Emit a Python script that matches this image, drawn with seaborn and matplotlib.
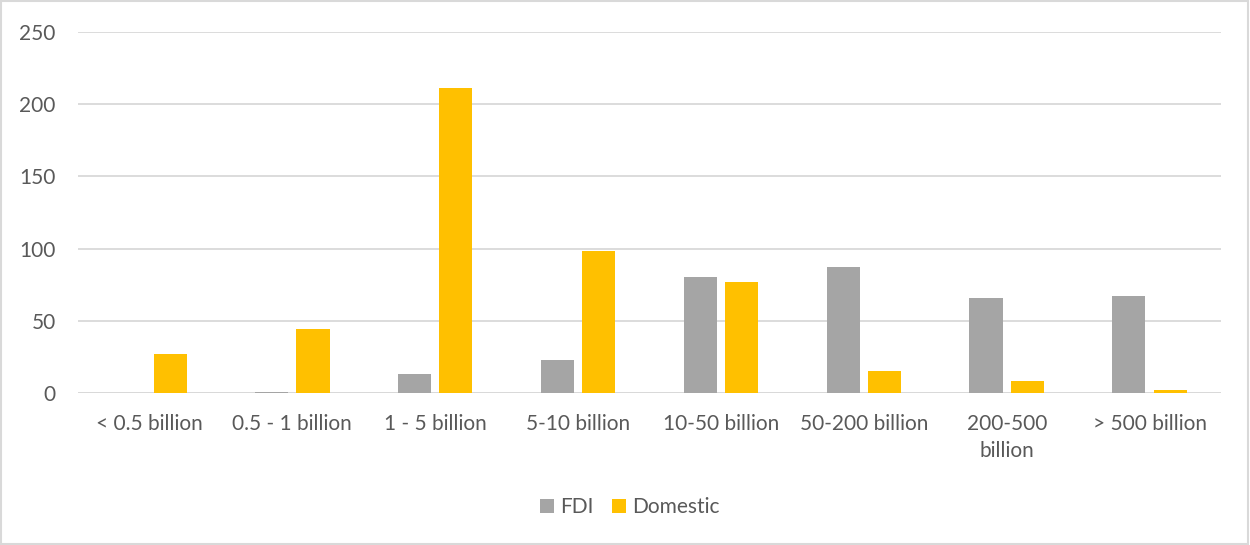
import seaborn as sns
import matplotlib.pyplot as plt
import pandas as pd

categories = ["< 0.5 billion", "0.5 - 1 billion", "1 - 5 billion", "5-10 billion",
              "10-50 billion", "50-200 billion", "200-500\nbillion", "> 500 billion"]
fdi = [0, 1, 13, 23, 80, 87, 66, 67]
domestic = [27, 44, 211, 98, 77, 15, 8, 2]
series = ["FDI", "Domestic"]
colors = {"FDI": "#A5A5A5", "Domestic": "#FFC000"}

df = pd.DataFrame({
    "category": categories * 2,
    "series": [series[0]] * len(categories) + [series[1]] * len(categories),
    "value": fdi + domestic,
})

sns.set_style("white")
plt.rcParams["font.family"] = ["Lato", "DejaVu Sans"]
text_color = "#595959"
fs = 15

fig = plt.figure(figsize=(12.5, 5.45), dpi=100)
ax = fig.add_axes([78 / 1250, 1 - 393 / 545, (1221 - 78) / 1250, (393 - 32) / 545])

sns.barplot(data=df, x="category", y="value", hue="series", order=categories,
            hue_order=series, palette=colors, width=0.58, gap=0.2,
            saturation=1, linewidth=0, ax=ax, legend=True)

ax.set_ylim(0, 250)
ax.set_xlim(-0.5, len(categories) - 0.5)
ax.set_yticks(range(0, 251, 50))
ax.yaxis.grid(True, color="#D9D9D9", linewidth=1.3)
ax.set_axisbelow(True)
for s in ax.spines.values():
    s.set_visible(False)
ax.axhline(0, color="#D9D9D9", linewidth=1.3, zorder=0)
ax.set_xlabel("")
ax.set_ylabel("")
ax.tick_params(axis="both", length=0, labelsize=fs, colors=text_color)
ax.tick_params(axis="y", pad=16)
ax.tick_params(axis="x", pad=15)
for lbl in ax.get_xticklabels():
    lbl.set_linespacing(1.45)

handles, labels = ax.get_legend_handles_labels()
ax.legend_.remove()
fig.legend(handles, labels, loc="center", bbox_to_anchor=(630 / 1250, 1 - 507 / 545),
           ncol=2, frameon=False, fontsize=fs, handlelength=0.65, handleheight=0.65,
           handletextpad=0.3, columnspacing=0.9, labelcolor=text_color)

fig.patches.append(plt.Rectangle((0.001, 0.001), 0.997, 0.997, transform=fig.transFigure,
                                 fill=False, edgecolor="#D9D9D9", linewidth=1.5))

fig.savefig("out.png", dpi=100, facecolor="white")
